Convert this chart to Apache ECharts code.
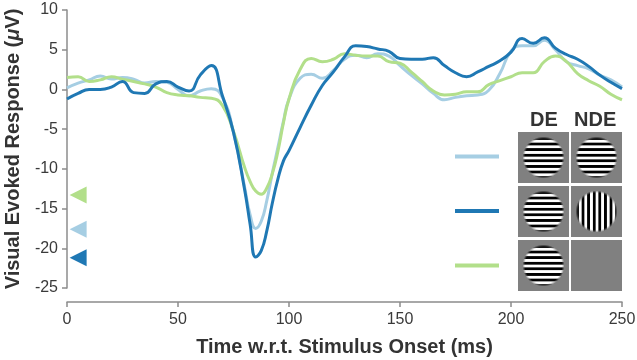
<!DOCTYPE html>
<html>
<head>
<meta charset="utf-8">
<script src="https://cdn.jsdelivr.net/npm/echarts@6/dist/echarts.min.js"></script>
<style>
  html, body { margin: 0; padding: 0; background: #fff; }
  #chart { width: 637px; height: 360px; }
</style>
</head>
<body>
<div id="chart"></div>
<script>
// time points (ms), denser around the trough
const times = [0, 5, 10, 15, 20, 25, 30, 35, 40, 45, 50, 55, 60, 65, 70, 75,
  80, 82.5, 85, 87.5, 90, 92.5, 95, 97.5, 100,
  105, 110, 115, 120, 125, 130, 135, 140, 145, 150, 155, 160, 165, 170, 175, 180,
  185, 190, 195, 200, 205, 210, 215, 220, 225, 230, 235, 240, 245, 250];

const lightBlue = [0.2, 0.8, 1.2, 1.7, 1.3, 1.5, 1.3, 0.8, 1.0, 0.9, 0.0, -0.8, -0.2, 0.1, -1.0, -5.4,
  -12.3, -15.8, -17.5, -16.6, -14.0, -10.5, -7.3, -4.0, -1.2,
  1.4, 1.9, 1.4, 2.4, 3.8, 4.3, 4.0, 4.5, 4.2, 3.0, 1.8, 0.7, -0.5, -1.3, -1.0, -0.8,
  -0.7, -0.1, 2.0, 4.8, 5.5, 5.5, 6.2, 5.0, 3.5, 3.0, 2.6, 1.8, 1.2, 0.3];

const darkBlue = [-1.2, -0.5, 0.0, 0.0, 0.3, 1.0, -0.4, -0.5, 0.7, 1.0, 0.3, -0.2, 1.8, 3.0, -0.8, -5.4,
  -12.6, -17.0, -21.1, -20.3, -17.8, -14.3, -11.3, -9.0, -7.7,
  -4.8, -2.0, 0.5, 2.2, 4.1, 5.5, 5.4, 5.1, 4.8, 3.9, 3.8, 3.8, 4.0, 3.0, 2.1, 1.6,
  2.2, 2.9, 3.6, 4.7, 6.4, 5.8, 6.5, 5.2, 4.4, 3.8, 2.9, 1.8, 0.9, 0.1];

const green = [1.5, 1.6, 1.0, 1.2, 1.6, 1.3, 1.0, 0.7, 0.3, -0.4, -0.7, -0.8, -1.0, -1.1, -2.0, -5.3,
  -9.8, -11.6, -12.8, -13.2, -12.4, -10.6, -7.8, -4.2, -1.2,
  2.5, 3.9, 3.5, 3.8, 4.5, 4.3, 4.2, 4.2, 3.5, 3.3, 2.2, 1.0, -0.2, -0.7, -0.6, -0.3,
  -0.3, 0.6, 1.1, 1.6, 2.1, 2.1, 3.5, 4.2, 3.5, 2.0, 1.1, 0.4, -0.6, -1.3];

// peak markers drawn on the left edge
const peakTime = 5;
const peakValues = [-13.3, -17.6, -21.2];

const COLORS = { light: '#a6cee3', dark: '#1f78b4', green: '#b2df8a' };

function pairs(vals) {
  return times.map((t, i) => [t, vals[i]]);
}

// grating patch drawn on a small canvas
function makeGrating(vertical) {
  const s = 51;
  const c = document.createElement('canvas');
  c.width = s; c.height = s;
  const ctx = c.getContext('2d');
  const img = ctx.createImageData(s, s);
  for (let y = 0; y < s; y++) {
    for (let x = 0; x < s; x++) {
      const dx = x + 0.5 - s / 2, dy = y + 0.5 - s / 2;
      const r = Math.sqrt(dx * dx + dy * dy);
      let v = 128;
      if (r < 21) {
        const p = vertical ? dx : dy;
        const w = r < 18.5 ? 1 : (21 - r) / 2.5;
        const sv = Math.sin(2 * Math.PI * p / 5.6 + 1.0);
        v = 128 + 127 * Math.max(-1, Math.min(1, sv * 2.5)) * w;
      }
      const k = (y * s + x) * 4;
      img.data[k] = img.data[k + 1] = img.data[k + 2] = v;
      img.data[k + 3] = 255;
    }
  }
  ctx.putImageData(img, 0, 0);
  return c;
}

const horiz = makeGrating(false);
const vert = makeGrating(true);

const chart = echarts.init(document.getElementById('chart'));

const axisGray = '#8c8c8c';
const labelStyle = { color: '#3a3a3a', fontSize: 16, fontFamily: 'Liberation Sans' };
const titleStyle = { fontSize: 20, fontWeight: 'bold', color: '#333', fontFamily: 'Liberation Sans' };

const option = {
  animation: false,
  grid: { left: 67, right: 15, top: 10, bottom: 72, outerBoundsMode: 'none' },
  xAxis: {
    type: 'value',
    min: 0, max: 250, interval: 50,
    offset: 14,
    name: 'Time w.r.t. Stimulus Onset (ms)',
    nameLocation: 'middle',
    nameGap: 35,
    nameTextStyle: titleStyle,
    axisLine: { show: true, onZero: false, lineStyle: { color: axisGray, width: 1.5 } },
    axisTick: { show: true, length: 5, lineStyle: { color: axisGray, width: 1.5 } },
    axisLabel: Object.assign({ margin: 10 }, labelStyle),
    splitLine: { show: false }
  },
  yAxis: {
    type: 'value',
    min: -25, max: 10, interval: 5,
    name: '{b|Visual Evoked Response (}{i|μ}{b|V)}',
    nameLocation: 'middle',
    nameGap: 37,
    nameTextStyle: {
      rich: {
        b: titleStyle,
        i: Object.assign({}, titleStyle, { fontStyle: 'italic' })
      }
    },
    axisLine: { show: true, onZero: false, lineStyle: { color: axisGray, width: 1.5 } },
    axisTick: { show: true, length: 5, lineStyle: { color: axisGray, width: 1.5 } },
    axisLabel: Object.assign({ margin: 9 }, labelStyle),
    splitLine: { show: false }
  },
  series: [
    {
      name: 'light', type: 'line', smooth: true, showSymbol: false,
      data: pairs(lightBlue),
      lineStyle: { color: COLORS.light, width: 3 }
    },
    {
      name: 'green', type: 'line', smooth: true, showSymbol: false,
      data: pairs(green),
      lineStyle: { color: COLORS.green, width: 3 }
    },
    {
      name: 'dark', type: 'line', smooth: true, showSymbol: false,
      data: pairs(darkBlue),
      lineStyle: { color: COLORS.dark, width: 3 }
    },
    {
      type: 'scatter',
      symbol: 'triangle',
      symbolRotate: 90,
      symbolSize: 17,
      data: [
        { value: [peakTime, peakValues[0]], itemStyle: { color: COLORS.green, opacity: 1 } },
        { value: [peakTime, peakValues[1]], itemStyle: { color: COLORS.light, opacity: 1 } },
        { value: [peakTime, peakValues[2]], itemStyle: { color: COLORS.dark, opacity: 1 } }
      ]
    }
  ],
  graphic: [
    { type: 'text', left: 530, top: 110, style: { text: 'DE', font: 'bold 20px "Liberation Sans"', fill: '#333' } },
    { type: 'text', left: 574, top: 110, style: { text: 'NDE', font: 'bold 20px "Liberation Sans"', fill: '#333' } },
    { type: 'line', shape: { x1: 455, y1: 156.5, x2: 499, y2: 156.5 }, style: { stroke: COLORS.light, lineWidth: 4 } },
    { type: 'line', shape: { x1: 455, y1: 211, x2: 499, y2: 211 }, style: { stroke: COLORS.dark, lineWidth: 4 } },
    { type: 'line', shape: { x1: 455, y1: 265.5, x2: 499, y2: 265.5 }, style: { stroke: COLORS.green, lineWidth: 4 } },
    { type: 'image', x: 518, y: 132, style: { image: horiz, width: 51, height: 51 } },
    { type: 'image', x: 571, y: 132, style: { image: horiz, width: 51, height: 51 } },
    { type: 'image', x: 518, y: 186, style: { image: horiz, width: 51, height: 51 } },
    { type: 'image', x: 571, y: 186, style: { image: vert, width: 51, height: 51 } },
    { type: 'image', x: 518, y: 240, style: { image: horiz, width: 51, height: 51 } },
    { type: 'rect', shape: { x: 571, y: 240, width: 51, height: 51 }, style: { fill: '#808080' } }
  ]
};

chart.setOption(option);
</script>
</body>
</html>
